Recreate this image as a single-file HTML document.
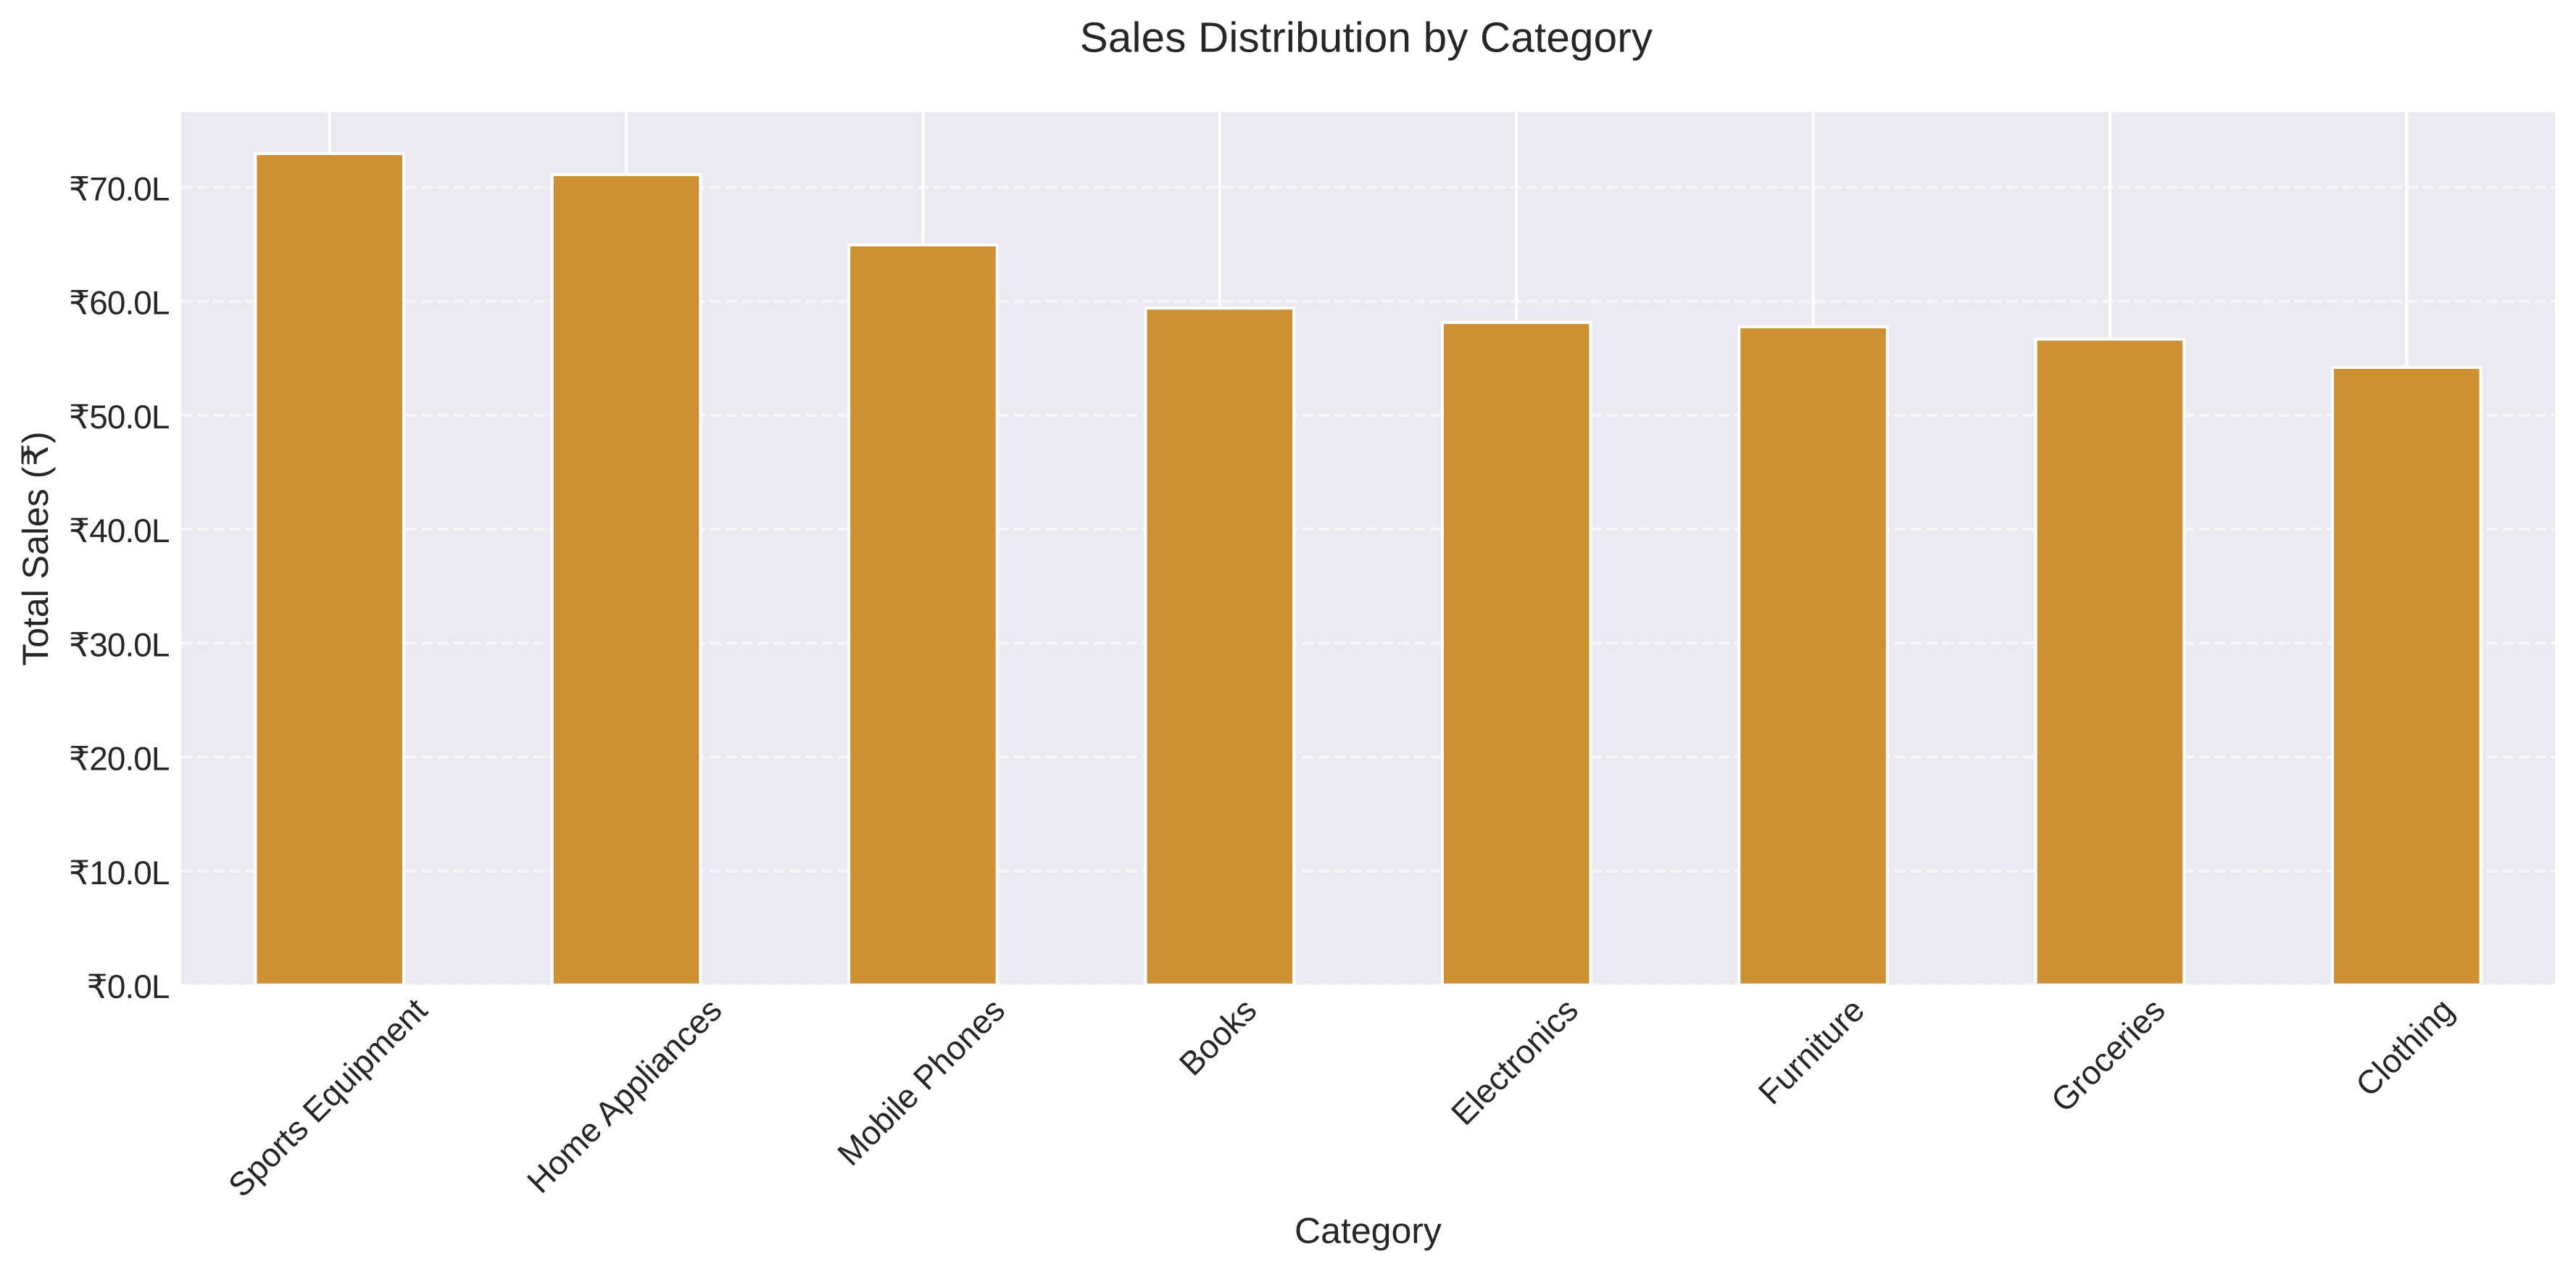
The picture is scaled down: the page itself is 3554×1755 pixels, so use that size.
<!DOCTYPE html>
<html lang="en">
<head>
<meta charset="utf-8">
<title>Sales Distribution by Category</title>
<style>
html,body{margin:0;padding:0;background:#fff;width:3554px;height:1755px;overflow:hidden}
svg{display:block}
text{font-family:"Liberation Sans",Arial,sans-serif;fill:#262626;text-rendering:geometricPrecision}
</style>
</head>
<body>
<svg id="chart" xmlns="http://www.w3.org/2000/svg" width="3554" height="1755" viewBox="0 0 3554 1755">
  <defs><clipPath id="plot-clip"><rect x="250" y="154.7" width="3275" height="1204.3"/></clipPath></defs>
  <rect x="250" y="154.7" width="3275" height="1204.3" fill="#EAEAF2"/>
  <g id="grid" clip-path="url(#plot-clip)"></g>
  <g id="bars" clip-path="url(#plot-clip)"></g>
  <g id="yticks"></g>
  <g id="xticks"></g>
  <text x="1885" y="71.5" text-anchor="middle" font-size="58.33" letter-spacing="0.2">Sales Distribution by Category</text>
  <text x="1887.5" y="1715" text-anchor="middle" font-size="50">Category</text>
  <text transform="translate(66,757) rotate(-90)" text-anchor="middle" font-size="50">Total Sales (₹)</text>
</svg>
<script>
var categories = ["Sports Equipment","Home Appliances","Mobile Phones","Books","Electronics","Furniture","Groceries","Clothing"];
var salesLakhs = [72.96,71.12,64.95,59.4,58.14,57.76,56.68,54.2];
var yTickValues = [0,10,20,30,40,50,60,70];
var yTickLabels = ["₹0.0L","₹10.0L","₹20.0L","₹30.0L","₹40.0L","₹50.0L","₹60.0L","₹70.0L"];

var NS = "http://www.w3.org/2000/svg";
var plotLeft = 250, plotRight = 3525, plotTop = 154.7, plotBottom = 1359;
var yMax = 76.6, barWidthUnits = 0.5;

function xScale(i) {
  return plotLeft + (i + 0.5) * (plotRight - plotLeft) / categories.length;
}
function yScale(v) {
  return plotBottom - v / yMax * (plotBottom - plotTop);
}
function make(tag, attrs, parent) {
  var el = document.createElementNS(NS, tag);
  for (var k in attrs) { el.setAttribute(k, attrs[k]); }
  parent.appendChild(el);
  return el;
}

var grid = document.getElementById("grid");
var bars = document.getElementById("bars");
var yticks = document.getElementById("yticks");
var xticks = document.getElementById("xticks");

categories.forEach(function (c, i) {
  var gx = make("line", {x1: xScale(i), x2: xScale(i), y1: plotTop, y2: plotBottom, stroke: "#fff", "stroke-width": 4.17}, grid);
  
  
});

yTickValues.forEach(function (v, i) {
  var gy = make("line", {x1: plotLeft, x2: plotRight, y1: yScale(v), y2: yScale(v), stroke: "#fff", "stroke-opacity": 0.6, "stroke-width": 4.17, "stroke-dasharray": "15.42 6.67"}, grid);
  
  
  var t = make("text", {x: 233.5, y: yScale(v) + 18, "text-anchor": "end", "font-size": 45.83, "letter-spacing": -0.9}, yticks);
  t.textContent = yTickLabels[i];
  
  
});

var unit = (plotRight - plotLeft) / categories.length;
salesLakhs.forEach(function (v, i) {
  var w = barWidthUnits * unit;
  var bar = make("rect", {x: xScale(i) - w / 2, y: yScale(v), width: w, height: plotBottom - yScale(v), fill: "#CD9032", stroke: "#fff", "stroke-width": 4.17}, bars);
  
  
});

categories.forEach(function (c, i) {
  var lab = make("text", {"text-anchor": "middle", "font-size": 45.83, x: 0, y: 12}, xticks);
  lab.textContent = c;
  
  
  var len = lab.getComputedTextLength();
  var cy = 1373 + (len + 43) * Math.SQRT1_2 / 2;
  lab.setAttribute("transform", "translate(" + xScale(i) + "," + cy + ") rotate(-45)");
});
</script>
</body>
</html>
